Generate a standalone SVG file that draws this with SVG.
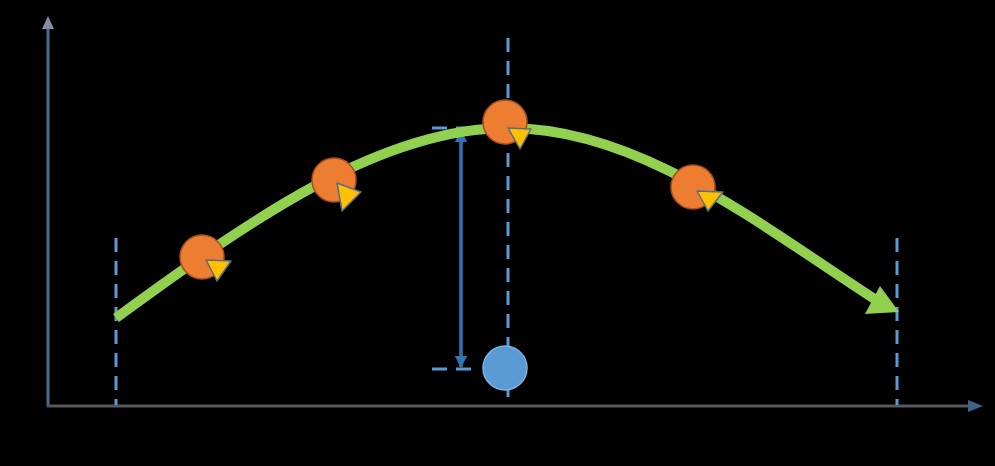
<svg xmlns="http://www.w3.org/2000/svg" width="995" height="466" viewBox="0 0 995 466">
<style>
.dash{stroke:#5b9bd5;stroke-width:3;stroke-dasharray:14 9;fill:none}
.tick{stroke:#5b9bd5;stroke-width:3;stroke-dasharray:15 9;fill:none}
.orange{fill:#ed7d31;stroke:#a8501c;stroke-width:1.5}
.tri{fill:#ffc000;stroke:#5a6b8a;stroke-width:1.5;stroke-linejoin:round}
</style>
<defs>
<marker id="ah" viewBox="0 0 10 10" refX="9" refY="5" markerWidth="3.6" markerHeight="3.6" orient="auto-start-reverse"><path d="M0,0 L10,5 L0,10 z" fill="#2e75b6"/></marker>
</defs>
<rect width="995" height="466" fill="#000"/>
<g id="axes">
<line x1="48" y1="406" x2="48" y2="28" stroke="#4a6e8c" stroke-width="3"/>
<path d="M48,16 L42,29 L54,29 z" fill="#8a8aa0"/>
<line x1="47" y1="406" x2="970" y2="406" stroke="#595959" stroke-width="3"/>
<path d="M983,406 L968,400 L968,412 z" fill="#3f6385"/>
</g>
<g id="connectors">
<line class="dash" x1="116" y1="238" x2="116" y2="405"/>
<line class="dash" x1="508" y1="38" x2="508" y2="405"/>
<line class="dash" x1="897" y1="238" x2="897" y2="405"/>
<line class="tick" x1="432" y1="128" x2="472" y2="128"/>
<line class="tick" x1="432" y1="369" x2="472" y2="369"/>
<line x1="461" y1="131" x2="461" y2="367" stroke="#2e75b6" stroke-width="3.5" marker-start="url(#ah)" marker-end="url(#ah)"/>
<path d="M116,318 C250,220 380,128 508,128 C640,128 760,225 876,300" fill="none" stroke="#92d050" stroke-width="10"/>
<path d="M899,312 L865,314 L880,286 z" fill="#92d050"/>
</g>
<g id="ball1"><circle class="orange" cx="202" cy="257" r="22"/><path class="tri" d="M206,260 L231,261 L217,281 z"/></g>
<g id="ball2"><circle class="orange" cx="334" cy="180" r="22"/><path class="tri" d="M337,183 L361,192 L342,211 z"/></g>
<g id="ball3"><circle class="orange" cx="505" cy="122" r="22"/><path class="tri" d="M508,128 L531,129 L520,149 z"/></g>
<g id="ball4"><circle class="orange" cx="693" cy="187" r="22"/><path class="tri" d="M697,191 L723,192 L708,211 z"/></g>
<g id="ball5"><circle cx="505" cy="368" r="22" fill="#5b9bd5" stroke="#7fb0e0" stroke-width="1.5"/></g>
</svg>
